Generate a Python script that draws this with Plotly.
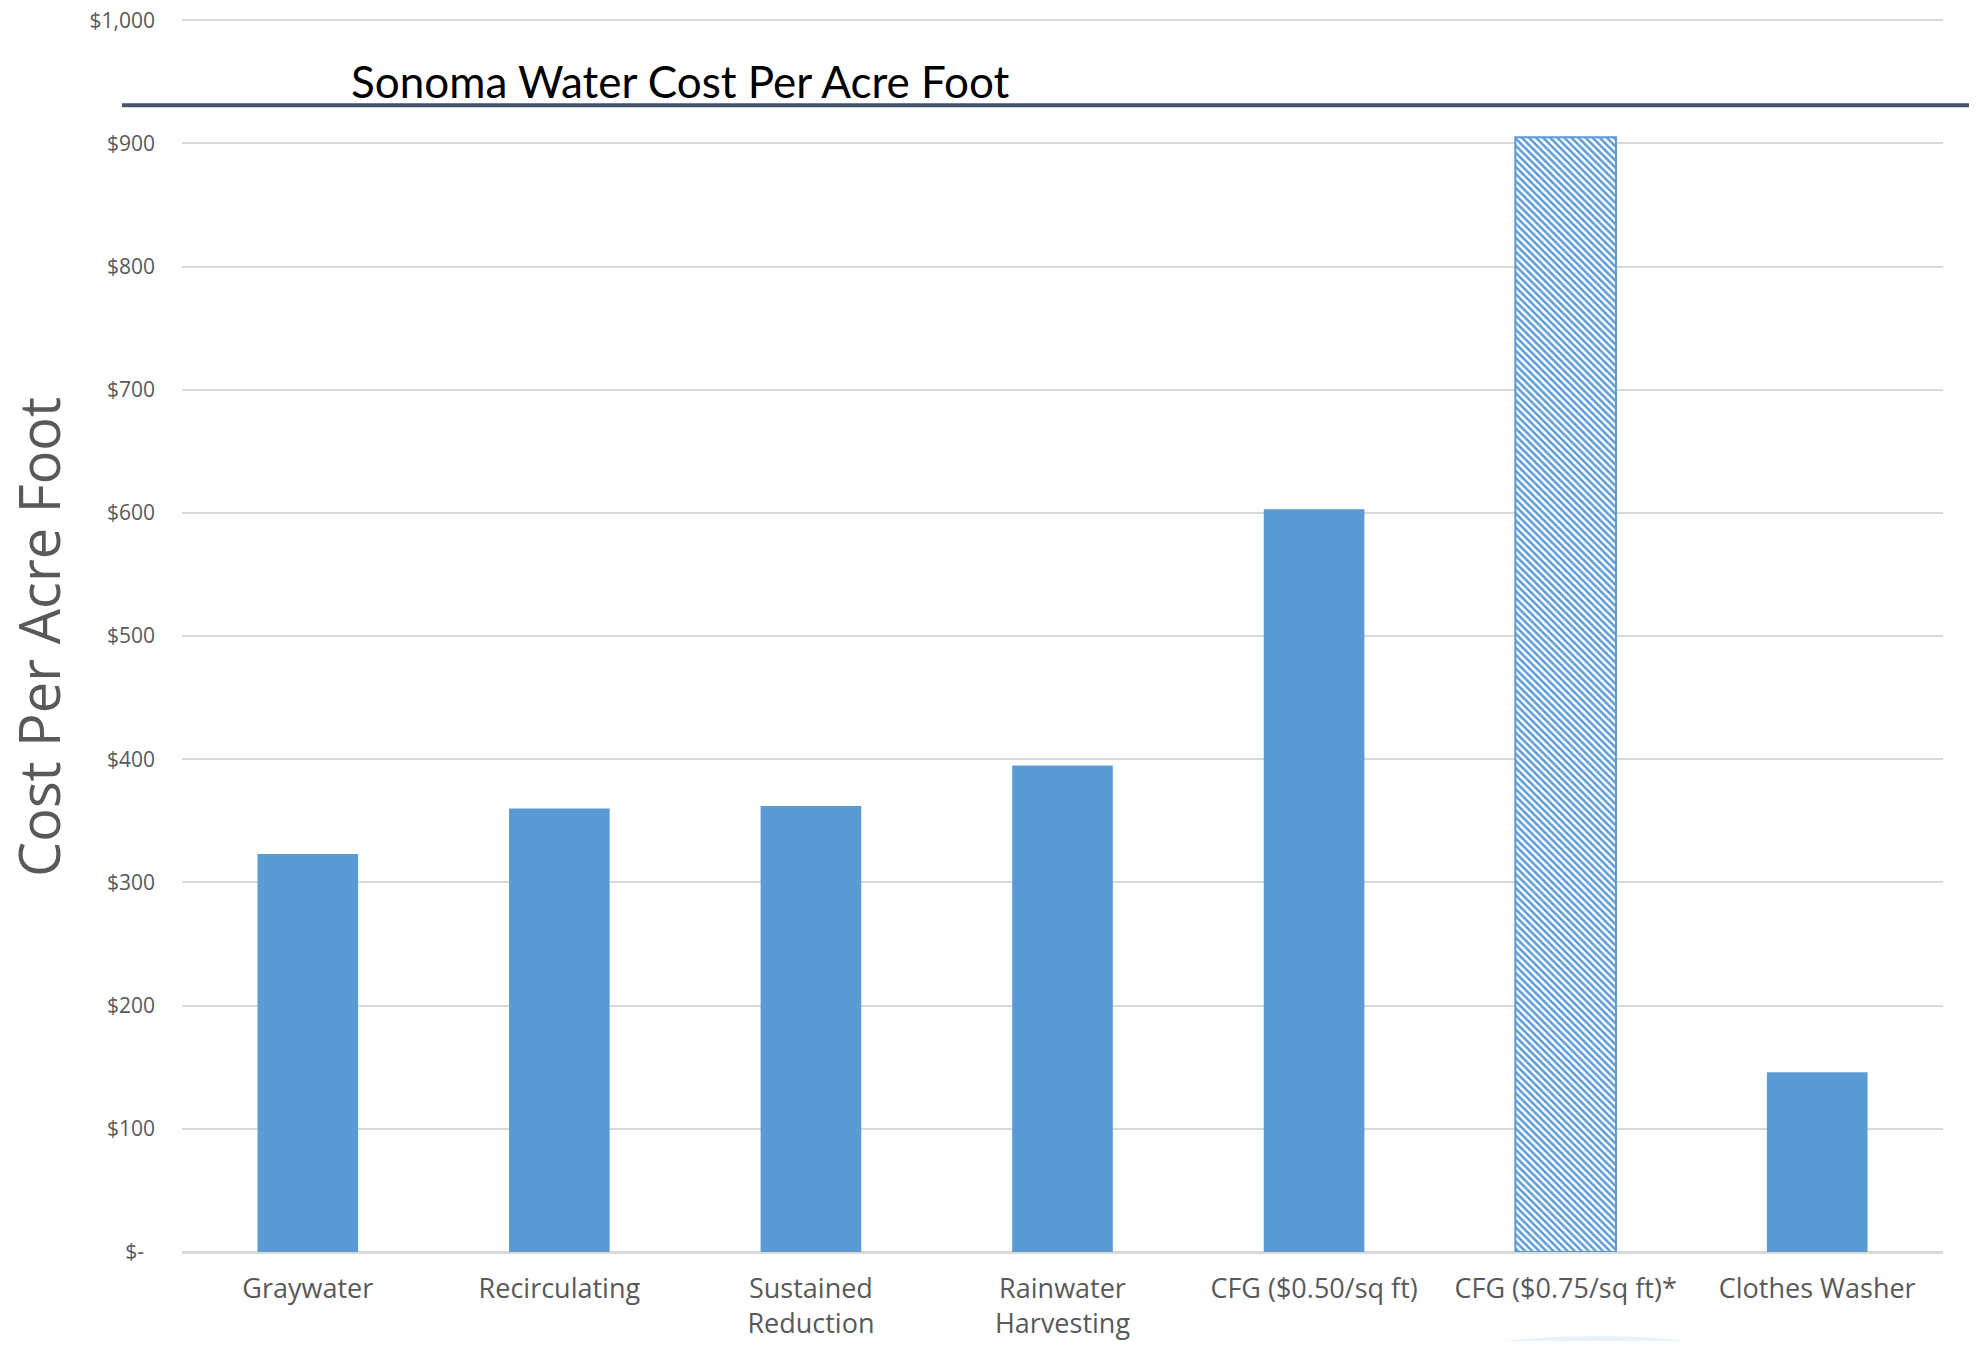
import plotly.graph_objects as go

categories = ["Graywater", "Recirculating", "Sustained<br>Reduction", "Rainwater<br>Harvesting",
              "CFG ($0.50/sq ft)", "CFG ($0.75/sq ft)*", "Clothes Washer"]
values = [323, 360, 362, 395, 603, 905, 146]
hatched = [False, False, False, False, False, True, False]

tick_vals = [0, 100, 200, 300, 400, 500, 600, 700, 800, 900, 1000]
tick_text = ["$-\u00a0\u00a0", "$100", "$200", "$300", "$400", "$500", "$600", "$700", "$800", "$900", "$1,000"]

title_text = "Sonoma Water Cost Per Acre Foot"
y_title = "Cost Per Acre Foot"

BLUE = "#5B9BD5"
GRAY = "#595959"

fig = go.Figure()
fig.add_trace(go.Bar(
    x=categories,
    y=values,
    marker=dict(
        color=BLUE,
        line=dict(color=[BLUE if h else "rgba(0,0,0,0)" for h in hatched],
                  width=[2 if h else 0 for h in hatched]),
        pattern=dict(
            shape=["\\" if h else "" for h in hatched],
            fgcolor=BLUE,
            bgcolor="white",
            size=5,
            solidity=0.5,
            fillmode="replace",
        ),
    ),
    hoverinfo="x+y",
))

# page body has an 8px margin; figure is placed at (8, 8)
OFF = 8
W, H = 1977 - 2 * OFF, 1349 - 2 * OFF
Y_TOP = 1005                      # a little head-room so the $1,000 grid line is drawn
PX_PER_UNIT = 1232 / 1000
L, R, B = 174, 26, 89
T = H - B - Y_TOP * PX_PER_UNIT
pw, ph = W - L - R, H - T - B

def px_x(x_page):
    return (x_page - OFF - L) / pw

def px_y(y_page):
    return (H - B - (y_page - OFF)) / ph

fig.update_layout(
    width=W, height=H,
    autosize=False,
    margin=dict(l=L, r=R, t=T, b=B, autoexpand=False),
    paper_bgcolor="white",
    plot_bgcolor="white",
    bargap=0.6,
    showlegend=False,
    font=dict(family="Open Sans", color=GRAY),
    xaxis=dict(
        automargin=False,
        showgrid=False,
        tickfont=dict(family="Open Sans", size=27, color=GRAY),
        ticks="",
        ticklabelstandoff=18,
        ticklabeloverflow="allow",
        showline=False,
    ),
    yaxis=dict(
        automargin=False,
        range=[0, Y_TOP],
        tickvals=tick_vals,
        ticktext=tick_text,
        tickfont=dict(family="Open Sans", size=21, color=GRAY),
        showgrid=True,
        gridcolor="#D9D9D9",
        gridwidth=2,
        zeroline=True,
        zerolinecolor="#D9D9D9",
        zerolinewidth=3,
        ticks="",
        ticklabelstandoff=26,
        ticklabeloverflow="allow",
        showline=False,
    ),
    shapes=[
        dict(type="line", xref="paper", yref="paper",
             x0=px_x(122), x1=px_x(1977), y0=px_y(105), y1=px_y(105),
             line=dict(color="#44546A", width=4)),
        dict(type="circle", xref="paper", yref="paper", layer="below",
             x0=px_x(1200), x1=px_x(1990), y0=px_y(1336), y1=px_y(1700),
             fillcolor="#E6F4FA", line=dict(width=0)),
    ],
    annotations=[
        dict(text=title_text, xref="paper", yref="paper",
             x=px_x(349), y=px_y(81), xanchor="left", yanchor="middle",
             showarrow=False, font=dict(family="Lato", size=44, color="black")),
        dict(text=y_title, xref="paper", yref="paper",
             x=px_x(38), y=px_y(637), xanchor="center", yanchor="middle",
             textangle=-90, showarrow=False, borderpad=0,
             font=dict(family="Open Sans", size=56, color=GRAY)),
    ],
)

fig.write_html("out.html")
